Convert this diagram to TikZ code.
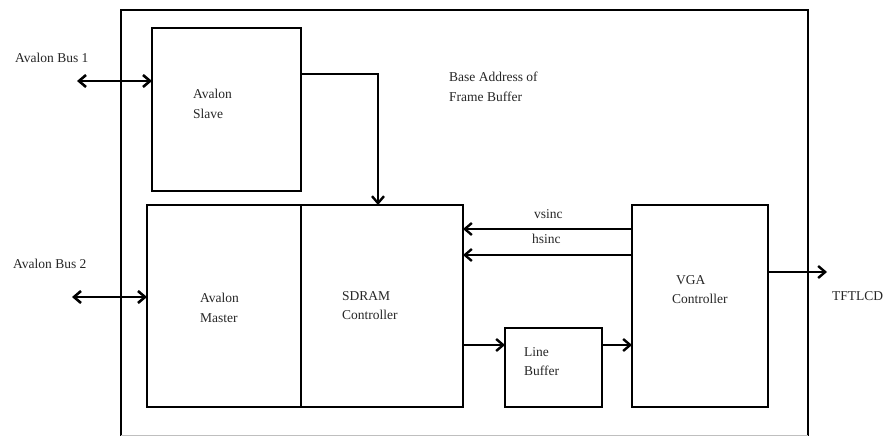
\documentclass[tikz,border=0pt]{standalone}
\usepackage{fontspec}
\setmainfont{Liberation Serif}
\usetikzlibrary{arrows.meta}
\begin{document}
\begin{tikzpicture}[x=1pt,y=-1pt,
  blk/.style={draw=black,line width=2.3pt,minimum width=#1,inner sep=0pt,outer sep=0pt},
  lbl/.style={font=\fontsize{13.5}{19.5}\selectfont,align=left,inner sep=0pt,anchor=north west,text=black!85},
  arr/.style={line width=2.3pt,-{Straight Barb[length=7pt,width=12pt,line width=2.4pt]}},
  darr/.style={line width=2.8pt,{Straight Barb[length=7pt,width=12pt,line width=2.6pt]}-{Straight Barb[length=7pt,width=12pt,line width=2.6pt]}}]
\useasboundingbox (0,0) rectangle (891,436);
% outer frame
\draw[line width=2.3pt] (121,436) -- (121,10) -- (808,10) -- (808,436);
\draw[black!25,line width=1pt] (121,435) -- (808,435);
% blocks
\node[blk=149pt,minimum height=163pt] (slave) at (226.5,109.5) {};
\node[blk=154pt,minimum height=202pt] (master) at (224,306) {};
\node[blk=162pt,minimum height=202pt] (sdram) at (382,306) {};
\node[blk=136pt,minimum height=202pt] (vga) at (700,306) {};
\node[blk=97pt,minimum height=79pt] (lb) at (553.5,367.5) {};
% block texts
\node[lbl] (tslave) at (193,89) {Avalon\\Slave};
\node[lbl] (tmaster) at (200,293) {Avalon\\Master};
\node[lbl] (tsdram) at (342,291) {SDRAM\\Controller};
\node[lbl] (tvga) at (672,275) {\hspace{4pt}VGA\\Controller};
\node[lbl] (tlb) at (524,347) {Line\\Buffer};
% other texts
\node[lbl] (tbus1) at (15,53) {Avalon Bus 1};
\node[lbl] (tbus2) at (13,259) {Avalon Bus 2};
\node[lbl] (tbase) at (449,72) {Base Address of\\Frame Buffer};
\node[lbl] (tv) at (534,209) {vsinc};
\node[lbl] (th) at (532,234) {hsinc};
\node[lbl] (ttft) at (832,291) {TFTLCD};
% connectors
\coordinate (b1) at (77,81);
\coordinate (b2) at (72,297);
\draw[darr] (b1) -- (slave.west |- b1);
\draw[darr] (b2) -- (master.west |- b2);
\draw[arr] ([yshift=35.5pt]slave.east) -| ([xshift=-4pt]sdram.north);
\coordinate (vs) at ([yshift=77pt]vga.west);
\coordinate (hs) at ([yshift=51pt]vga.west);
\draw[arr] (vs) -- (sdram.east |- vs);
\draw[arr] (hs) -- (sdram.east |- hs);
\coordinate (lbin) at ([yshift=22.5pt]lb.west);
\draw[arr] (sdram.east |- lbin) -- (lbin);
\draw[arr] (lb.east |- lbin) -- (vga.west |- lbin);
\coordinate (tft) at (827,272);
\draw[arr] (vga.east |- tft) -- (tft);
\end{tikzpicture}
\end{document}
